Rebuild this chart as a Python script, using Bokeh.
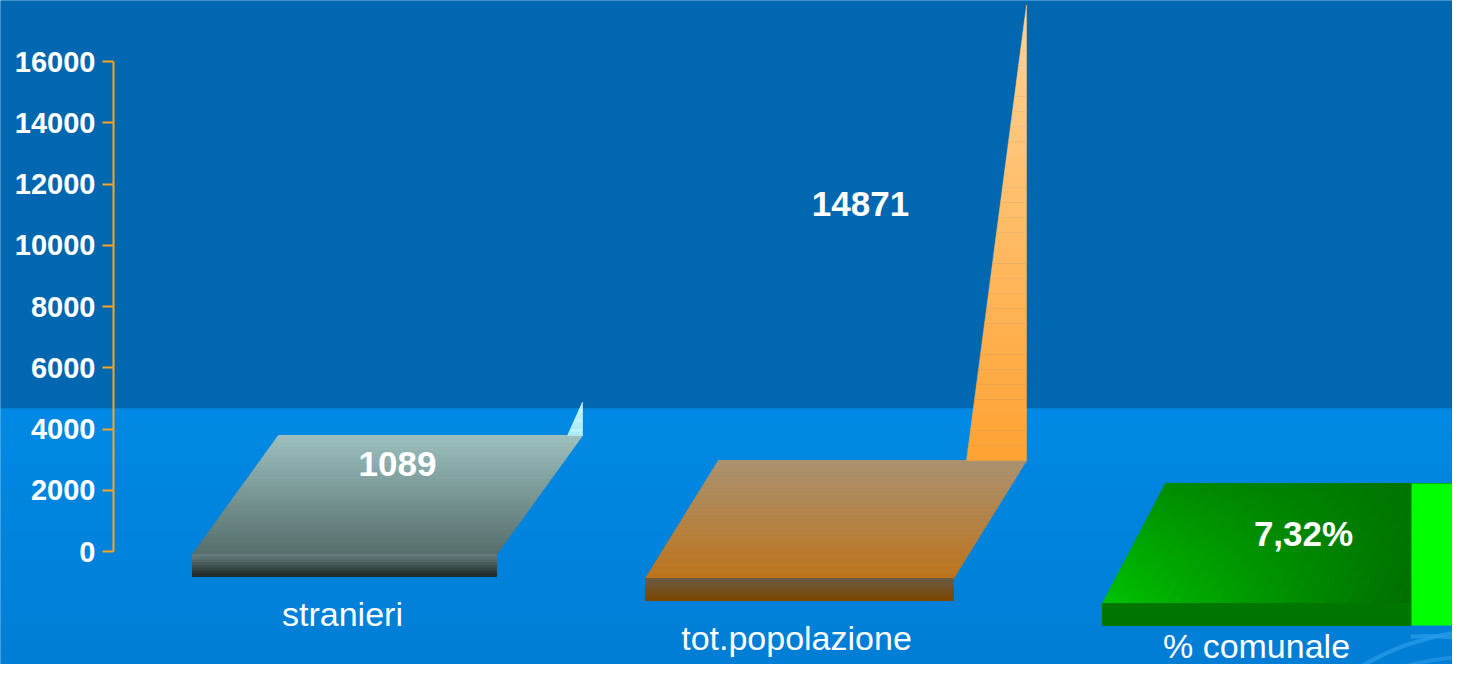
import numpy as np
from bokeh.plotting import figure
from bokeh.models import Range1d, LinearAxis, FixedTicker
from bokeh.core.properties import value
from bokeh.embed import file_html
from bokeh.resources import INLINE

# ---------------- data ----------------
categories = ["stranieri", "tot.popolazione", "% comunale"]
values = [1089, 14871, 7.32]
value_labels = ["1089", "14871", "7,32%"]
y_ticks = [0, 2000, 4000, 6000, 8000, 10000, 12000, 14000, 16000]

# ---------------- layout (reference pixels) ----------------
W, H = 1452, 664
PX = 16000 / 490.0          # data units per pixel
Y0 = 551                    # pixel row of value 0


def ry(row):
    return (Y0 - row) * PX


front_left = [192, 645, 1102]
front_width = [304, 308, 309]
front_row = [554, 578, 603]
slab_h = [22, 22, 22]
back_row = [435, 460, 483]
depth_dx = [86, 73, 63]
spike_w = [15, 60, 4]
val_lab_pos = [(397, 463), (860, 203), (1303, 533)]
cat_lab_pos = [(342, 613), (796, 637), (1256, 645)]

floor_cols = [("#9CC0BE", "#566E6C"), ("#AA9272", "#BD741C"), None]
slab_cols = [("#667C7C", "#222C2C"), ("#6A5B42", "#7C4806"), ("#007800", "#007400")]
spike_cols = [("#D0FBFF", "#B8F0FA"), ("#FFD496", "#FFA233"), ("#006A00", "#006A00")]


def hx(c):
    return np.array([int(c[i:i + 2], 16) for i in (1, 3, 5)], dtype=float)


def lerp(c1, c2, t):
    a, b = hx(c1), hx(c2)
    r = a + (b - a) * t
    return "#%02x%02x%02x" % tuple(int(round(v)) for v in r)


p = figure(width=W, height=H, x_range=Range1d(0, W),
           y_range=Range1d(ry(H), ry(0)),
           output_backend="svg", toolbar_location=None,
           x_axis_type=None, y_axis_type=None, min_border=0,
           outline_line_color=None, background_fill_color="#0084DD",
           border_fill_color="#0067B0")

# background
p.quad(left=[-10], right=[1500], bottom=[ry(408)], top=[ry(-10)],
       fill_color="#0067B0", line_color=None)
nb = 20
bx_l, bx_r, bb, bt, bc = [], [], [], [], []
for i in range(nb):
    r0 = 408 + (680 - 408) * i / nb
    r1 = 408 + (680 - 408) * (i + 1) / nb
    bx_l.append(-10); bx_r.append(1500)
    bt.append(ry(r0)); bb.append(ry(r1) - 1)
    bc.append(lerp("#0089E4", "#007DD4", i / (nb - 1)))
p.quad(left=bx_l, right=bx_r, bottom=bb, top=bt, fill_color=bc, line_color=None)

# faint swirls bottom right
p.bezier(x0=[1340, 1410], y0=[ry(680), ry(636)], x1=[1480, 1480],
         y1=[ry(628), ry(640)], cx0=[1380, 1440], cy0=[ry(650), ry(634)],
         cx1=[1420, 1460], cy1=[ry(636), ry(638)],
         line_color="#2A9CEA", line_alpha=0.7, line_width=4)
p.bezier(x0=[1360], y0=[ry(680)], x1=[1480], y1=[ry(655)],
         cx0=[1400], cy0=[ry(664)], cx1=[1440], cy1=[ry(656)],
         line_color="#2A9CEA", line_alpha=0.6, line_width=4)

# floors
xs, ys, cs = [], [], []
for k in range(3):
    xl, w, fr, br, dx = front_left[k], front_width[k], front_row[k], back_row[k], depth_dx[k]
    n = 30
    if floor_cols[k] is not None:
        for i in range(n):
            t0, t1 = i / n, (i + 1) / n
            r0 = br + (fr - br) * t0
            r1 = br + (fr - br) * t1
            s0 = dx * (1 - t0)
            s1 = dx * (1 - t1)
            xs.append([xl + s0, xl + w + s0, xl + w + s1, xl + s1])
            ys.append([ry(r0), ry(r0), ry(r1), ry(r1)])
            cs.append(lerp(floor_cols[k][0], floor_cols[k][1], (i + 0.5) / n))
    else:
        m = 24
        for i in range(n):
            t0, t1 = i / n, (i + 1) / n
            r0 = br + (fr - br) * t0
            r1 = br + (fr - br) * t1
            s0 = dx * (1 - t0)
            s1 = dx * (1 - t1)
            for j in range(m):
                u0, u1 = j / m, (j + 1) / m
                uc, vc = (u0 + u1) / 2, (t0 + t1) / 2
                g = 110 + 85 * (1 - uc) * (0.35 + 0.65 * vc)
                xs.append([xl + s0 + w * u0, xl + s0 + w * u1, xl + s1 + w * u1, xl + s1 + w * u0])
                ys.append([ry(r0), ry(r0), ry(r1), ry(r1)])
                cs.append("#00%02x00" % int(g))
p.patches(xs=xs, ys=ys, fill_color=cs, line_color=cs, line_width=1)

# front slabs
xs, ys, cs = [], [], []
for k in range(3):
    xl, w, fr, sh = front_left[k], front_width[k], front_row[k], slab_h[k]
    n = 8
    for i in range(n):
        r0 = fr + sh * i / n
        r1 = fr + sh * (i + 1) / n
        xs.append([xl, xl + w, xl + w, xl])
        ys.append([ry(r0), ry(r0), ry(r1), ry(r1)])
        cs.append(lerp(slab_cols[k][0], slab_cols[k][1], i / (n - 1)))
p.patches(xs=xs, ys=ys, fill_color=cs, line_color=cs, line_width=1)

# bright side of the third bar
k = 2
p.quad(left=[front_left[k] + front_width[k]], right=[1500],
       bottom=[ry(front_row[k] + slab_h[k])], top=[ry(back_row[k])],
       fill_color="#00FF00", line_color=None)

# spikes (height = value)
xs, ys, cs = [], [], []
for k in range(3):
    bxr = front_left[k] + front_width[k] + depth_dx[k]
    if k == 2:
        bxr = 1468
    base = ry(back_row[k])
    v = values[k]
    sw = spike_w[k]
    n = 30
    for i in range(n):
        s0, s1 = i / n, (i + 1) / n
        xs.append([bxr - sw * (1 - s0), bxr, bxr, bxr - sw * (1 - s1)])
        ys.append([base + v * s0, base + v * s0, base + v * s1, base + v * s1])
        cs.append(lerp(spike_cols[k][1], spike_cols[k][0], (i + 0.5) / n))
p.patches(xs=xs, ys=ys, fill_color=cs, line_color=cs, line_width=0.5)

# axis
ax = LinearAxis(fixed_location=113, bounds=(0, 16000),
                ticker=FixedTicker(ticks=y_ticks, minor_ticks=[]),
                axis_line_color="#FFA31A", axis_line_width=2,
                major_tick_line_color="#FFA31A", major_tick_line_width=2,
                major_tick_in=0, major_tick_out=11,
                minor_tick_line_color=None,
                major_label_text_color="white",
                major_label_text_font="Liberation Sans",
                major_label_text_font_style="bold",
                major_label_text_font_size="29px",
                major_label_standoff=7)
p.add_layout(ax, "left")

# value labels
p.text(x=[q[0] for q in val_lab_pos], y=[ry(q[1]) for q in val_lab_pos],
       text=value_labels, text_align="center", text_baseline="middle",
       text_font=value("Liberation Sans"), text_font_style="bold",
       text_font_size="35px", text_color="white")

# category labels
p.text(x=[q[0] for q in cat_lab_pos], y=[ry(q[1]) for q in cat_lab_pos],
       text=categories, text_align="center", text_baseline="middle",
       text_font=value("Liberation Sans"), text_font_size="34px",
       text_color="white")

open("out.html", "w").write(file_html(p, INLINE))
